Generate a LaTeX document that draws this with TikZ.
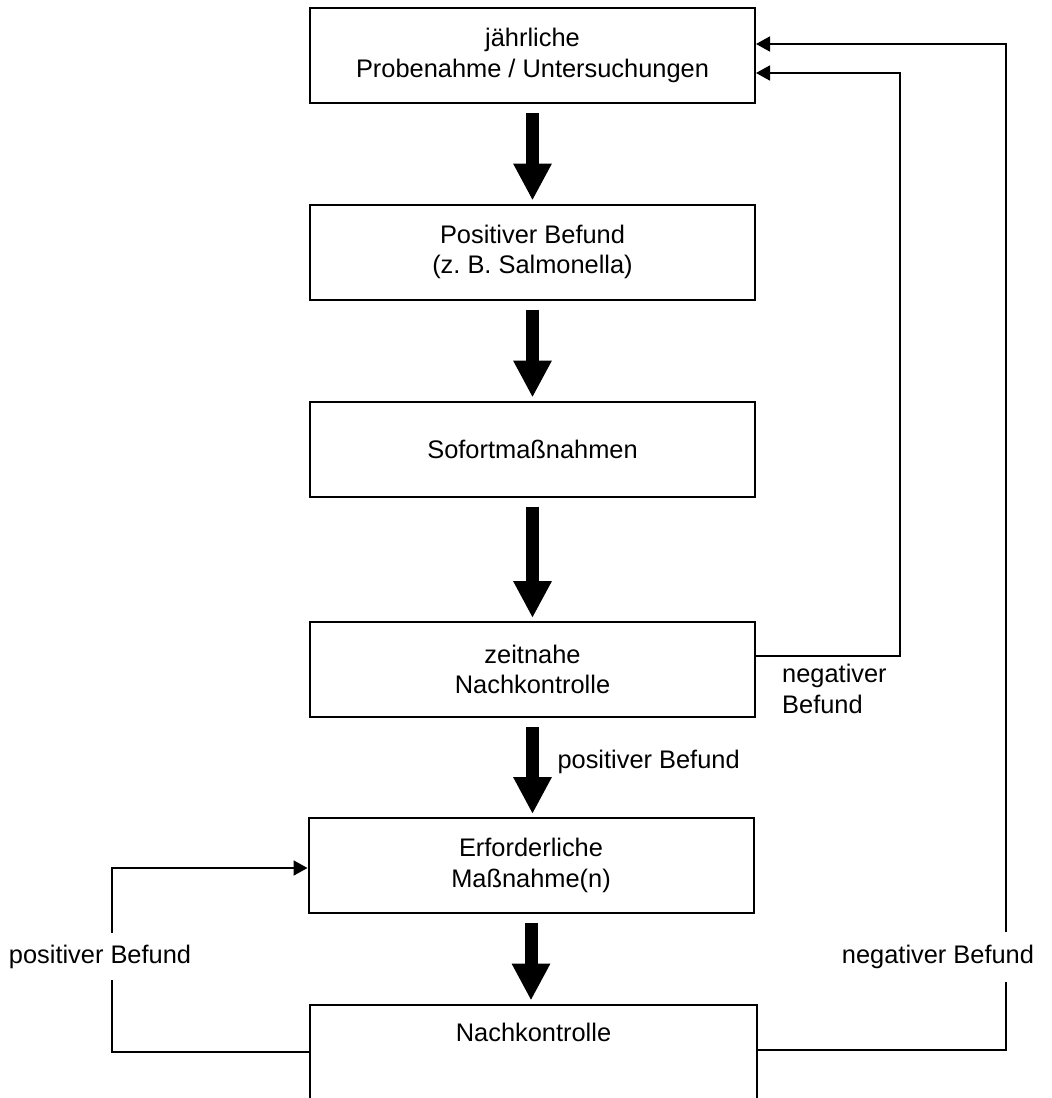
\documentclass[tikz,border=0pt]{standalone}
\usepackage{fontspec}
\setmainfont{Liberation Sans}
\usetikzlibrary{arrows.meta}
\begin{document}
\begin{tikzpicture}[x=1pt,y=-1pt,
    stepbox/.style={draw,line width=2pt,rectangle,minimum width=445pt,minimum height=95pt,
        align=center,font=\fontsize{25.4}{30.5}\selectfont},
    bigarrow/.style={line width=13pt,-{Triangle[length=37pt,width=36pt]}},
    loop/.style={line width=1.8pt,-{Triangle[length=14pt,width=15pt]}},
    lbl/.style={font=\fontsize{25.4}{30.5}\selectfont}]
    \useasboundingbox (0,0) rectangle (1052,1098);
    \clip (0,0) rectangle (1052,1098);
    %% Boxes
    \node[stepbox] (probe) at (532.5,55.5) {jährliche\\Probenahme / Untersuchungen};
    \node[stepbox] (befund) at (532.5,252) {Positiver Befund\\(z.~B. Salmonella)};
    \node[stepbox] (sofort) at (532.5,449) {Sofortmaßnahmen};
    \node[stepbox] (zeitnah) at (532.5,669.5) {zeitnahe\\Nachkontrolle};
    \node[stepbox] (massn) at (531,865.5) {Erforderliche\\Maßnahme(n)};
    \node[stepbox,minimum width=447pt,text height=0pt,text depth=0pt] (nachk) at (533.5,1052) {};
    \node[lbl] at (533.5,1032) {Nachkontrolle};
    %% Big arrows
    \foreach \a/\b in {probe/befund,befund/sofort,sofort/zeitnah,zeitnah/massn,massn/nachk}
        \draw[bigarrow,shorten <=9pt,shorten >=3pt] (\a.south) -- (\a.south |- \b.north);
    %% Labels
    \node[lbl,anchor=west] (pos1) at (554,762) {positiver Befund};
    \node[lbl,align=left,anchor=north west,inner sep=0pt] (neg1) at (782,664) {negativer\\Befund};
    \node[lbl] (neg2) at (938,957) {negativer Befund};
    \node[lbl] (pos2) at (100,957) {positiver Befund};
    %% Feedback loops
    \coordinate (rin) at (900,656);
    \coordinate (rout) at (1006,1050);
    \coordinate (lout) at (112,1052);
    \draw[loop] (zeitnah.east |- rin) -- (rin) |- ([yshift=-17.5pt]probe.east);
    \draw[line width=1.8pt] (nachk.east |- rout) -- (rout) -- (rout |- 0,982);
    \draw[loop] (rout |- 0,932) |- ([yshift=11.5pt]probe.east);
    \draw[line width=1.8pt] (nachk.west) -- (lout) -- (lout |- 0,980);
    \draw[loop] (lout |- 0,933) |- ([yshift=-2.5pt]massn.west);
\end{tikzpicture}
\end{document}
